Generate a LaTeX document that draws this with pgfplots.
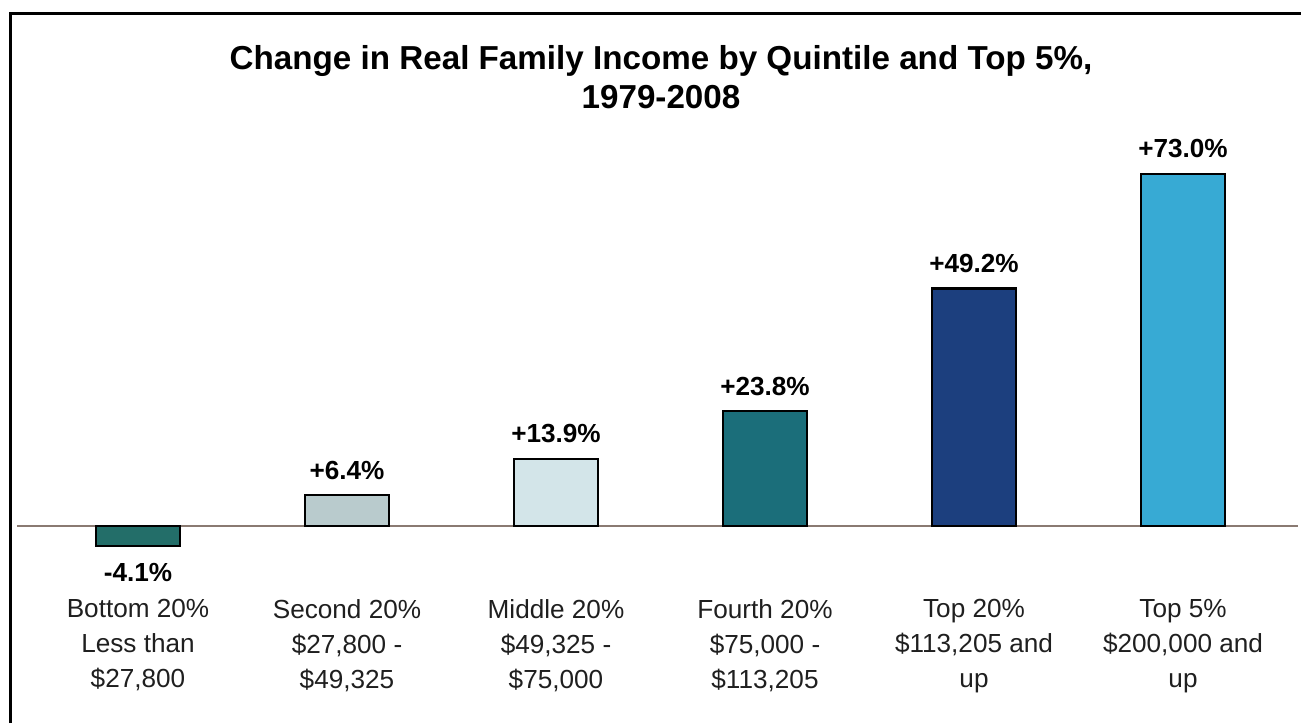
\documentclass[border=0pt]{standalone}
\usepackage{pgfplots}
\pgfplotsset{compat=1.18}
\usepackage{fontspec}
\setmainfont{Liberation Sans}
\definecolor{c1}{HTML}{236E69}
\definecolor{c2}{HTML}{B9CBCD}
\definecolor{c3}{HTML}{D3E5E9}
\definecolor{c4}{HTML}{1B6E7A}
\definecolor{c5}{HTML}{1C3F7E}
\definecolor{c6}{HTML}{37AAD4}
\definecolor{base}{HTML}{8A7A72}
\begin{document}
\begin{tikzpicture}
\begin{axis}[
  scale only axis, width=636.85pt, height=216pt,
  xmin=-0.58, xmax=5.55, ymin=-10, ymax=80,
  axis line style={draw=none},
  ytick=\empty,
  xtick={0,1,2,3,4,5},
  xtick style={draw=none},
  xticklabels={{Bottom 20\%\\Less than\\\$27,800},
               {Second 20\%\\\$27,800 -\\\$49,325},
               {Middle 20\%\\\$49,325 -\\\$75,000},
               {Fourth 20\%\\\$75,000 -\\\$113,205},
               {Top 20\%\\\$113,205 and\\up},
               {Top 5\%\\\$200,000 and\\up}},
  xticklabel style={align=center,font=\fontsize{13}{17.5}\selectfont,yshift=-4.5pt,text=black!88},
  ybar, bar width=42pt, bar shift=0pt,
  nodes near coords,
  point meta=explicit symbolic,
  every node near coord/.append style={font=\fontsize{13}{15}\selectfont\bfseries,yshift=4pt},
  clip=false,
]
\path[use as bounding box] (axis cs:-0.6603,-40.833) rectangle (axis cs:5.5646,108.958);
\draw[line width=1.5pt] (axis cs:-0.6124,-40.833) -- (axis cs:-0.6124,106.25) -- (axis cs:5.5646,106.25);
\node[align=center,font=\fontsize{16.5}{19.5}\selectfont\bfseries] at (axis cs:2.5024,93.02)
  {Change in Real Family Income by Quintile and Top 5\%,\\1979-2008};
\draw[base,line width=0.6pt] (axis cs:-0.58,0) -- (axis cs:5.55,0);
\addplot[fill=c1,draw=black,line width=1pt,every node near coord/.append style={anchor=north,yshift=-9pt}] table[meta=l] {
x y l
0 -4.1 -4.1\%
};
\addplot[fill=c2,draw=black,line width=1pt] table[meta=l] {
x y l
1 6.4 +6.4\%
};
\addplot[fill=c3,draw=black,line width=1pt] table[meta=l] {
x y l
2 13.9 +13.9\%
};
\addplot[fill=c4,draw=black,line width=1pt] table[meta=l] {
x y l
3 23.8 +23.8\%
};
\addplot[fill=c5,draw=black,line width=1pt] table[meta=l] {
x y l
4 49.2 +49.2\%
};
\addplot[fill=c6,draw=black,line width=1pt] table[meta=l] {
x y l
5 73.0 +73.0\%
};
\end{axis}
\end{tikzpicture}
\end{document}
